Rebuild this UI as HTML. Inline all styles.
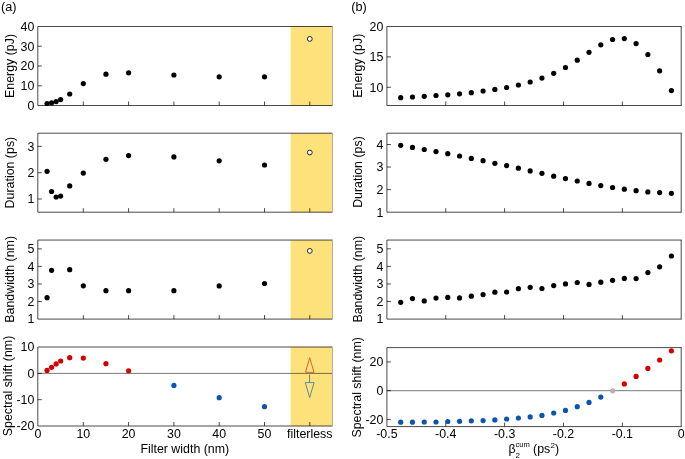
<!DOCTYPE html>
<html><head><meta charset="utf-8"><style>
html,body{margin:0;padding:0;background:#fff;}
svg{display:block;will-change:transform;}
text{font-family:"Liberation Sans", sans-serif;fill:#000;}
</style></head><body>
<svg width="685" height="459" viewBox="0 0 685 459">
<rect x="290.6" y="26.5" width="41.4" height="79.0" fill="#fde27c"/>
<rect x="290.6" y="133.2" width="41.4" height="79.0" fill="#fde27c"/>
<rect x="290.6" y="240.05" width="41.4" height="79.05000000000001" fill="#fde27c"/>
<rect x="290.6" y="347.0" width="41.4" height="79.0" fill="#fde27c"/>
<line x1="37.8" y1="373.4" x2="332.0" y2="373.4" stroke="#000" stroke-opacity="0.53" stroke-width="1"/>
<line x1="386.9" y1="390.7" x2="681.2" y2="390.7" stroke="#000" stroke-opacity="0.53" stroke-width="1"/>
<path d="M332.5 26.5 H37.8 V105.5 H332.5" fill="none" stroke="#000" stroke-opacity="0.71" stroke-width="1"/>
<line x1="332.5" y1="26.5" x2="332.5" y2="105.5" stroke="#b5b09a" stroke-width="1"/>
<path d="M681.7 26.5 H386.9 V105.5 H681.7" fill="none" stroke="#000" stroke-opacity="0.71" stroke-width="1"/>
<line x1="681.2" y1="26.5" x2="681.2" y2="105.5" stroke="#000" stroke-opacity="0.71" stroke-width="1"/>
<path d="M332.5 133.2 H37.8 V212.2 H332.5" fill="none" stroke="#000" stroke-opacity="0.71" stroke-width="1"/>
<line x1="332.5" y1="133.2" x2="332.5" y2="212.2" stroke="#b5b09a" stroke-width="1"/>
<path d="M681.7 133.2 H386.9 V212.2 H681.7" fill="none" stroke="#000" stroke-opacity="0.71" stroke-width="1"/>
<line x1="681.2" y1="133.2" x2="681.2" y2="212.2" stroke="#000" stroke-opacity="0.71" stroke-width="1"/>
<path d="M332.5 240.05 H37.8 V319.1 H332.5" fill="none" stroke="#000" stroke-opacity="0.71" stroke-width="1"/>
<line x1="332.5" y1="240.05" x2="332.5" y2="319.1" stroke="#b5b09a" stroke-width="1"/>
<path d="M681.7 240.05 H386.9 V319.1 H681.7" fill="none" stroke="#000" stroke-opacity="0.71" stroke-width="1"/>
<line x1="681.2" y1="240.05" x2="681.2" y2="319.1" stroke="#000" stroke-opacity="0.71" stroke-width="1"/>
<path d="M332.5 347.0 H37.8 V426.0 H332.5" fill="none" stroke="#000" stroke-opacity="0.71" stroke-width="1"/>
<line x1="332.5" y1="347.0" x2="332.5" y2="426.0" stroke="#b5b09a" stroke-width="1"/>
<path d="M681.7 347.6 H386.9 V426.6 H681.7" fill="none" stroke="#000" stroke-opacity="0.71" stroke-width="1"/>
<line x1="681.2" y1="347.6" x2="681.2" y2="426.6" stroke="#000" stroke-opacity="0.71" stroke-width="1"/>
<line x1="83.30" y1="105.5" x2="83.30" y2="101.5" stroke="#000" stroke-opacity="0.71" stroke-width="1"/>
<line x1="128.60" y1="105.5" x2="128.60" y2="101.5" stroke="#000" stroke-opacity="0.71" stroke-width="1"/>
<line x1="173.90" y1="105.5" x2="173.90" y2="101.5" stroke="#000" stroke-opacity="0.71" stroke-width="1"/>
<line x1="219.20" y1="105.5" x2="219.20" y2="101.5" stroke="#000" stroke-opacity="0.71" stroke-width="1"/>
<line x1="264.50" y1="105.5" x2="264.50" y2="101.5" stroke="#000" stroke-opacity="0.71" stroke-width="1"/>
<line x1="309.80" y1="105.5" x2="309.80" y2="101.5" stroke="#000" stroke-opacity="0.71" stroke-width="1"/>
<line x1="445.76" y1="105.5" x2="445.76" y2="101.5" stroke="#000" stroke-opacity="0.71" stroke-width="1"/>
<line x1="504.62" y1="105.5" x2="504.62" y2="101.5" stroke="#000" stroke-opacity="0.71" stroke-width="1"/>
<line x1="563.48" y1="105.5" x2="563.48" y2="101.5" stroke="#000" stroke-opacity="0.71" stroke-width="1"/>
<line x1="622.34" y1="105.5" x2="622.34" y2="101.5" stroke="#000" stroke-opacity="0.71" stroke-width="1"/>
<line x1="83.30" y1="212.2" x2="83.30" y2="208.2" stroke="#000" stroke-opacity="0.71" stroke-width="1"/>
<line x1="128.60" y1="212.2" x2="128.60" y2="208.2" stroke="#000" stroke-opacity="0.71" stroke-width="1"/>
<line x1="173.90" y1="212.2" x2="173.90" y2="208.2" stroke="#000" stroke-opacity="0.71" stroke-width="1"/>
<line x1="219.20" y1="212.2" x2="219.20" y2="208.2" stroke="#000" stroke-opacity="0.71" stroke-width="1"/>
<line x1="264.50" y1="212.2" x2="264.50" y2="208.2" stroke="#000" stroke-opacity="0.71" stroke-width="1"/>
<line x1="309.80" y1="212.2" x2="309.80" y2="208.2" stroke="#000" stroke-opacity="0.71" stroke-width="1"/>
<line x1="445.76" y1="212.2" x2="445.76" y2="208.2" stroke="#000" stroke-opacity="0.71" stroke-width="1"/>
<line x1="504.62" y1="212.2" x2="504.62" y2="208.2" stroke="#000" stroke-opacity="0.71" stroke-width="1"/>
<line x1="563.48" y1="212.2" x2="563.48" y2="208.2" stroke="#000" stroke-opacity="0.71" stroke-width="1"/>
<line x1="622.34" y1="212.2" x2="622.34" y2="208.2" stroke="#000" stroke-opacity="0.71" stroke-width="1"/>
<line x1="83.30" y1="319.1" x2="83.30" y2="315.1" stroke="#000" stroke-opacity="0.71" stroke-width="1"/>
<line x1="128.60" y1="319.1" x2="128.60" y2="315.1" stroke="#000" stroke-opacity="0.71" stroke-width="1"/>
<line x1="173.90" y1="319.1" x2="173.90" y2="315.1" stroke="#000" stroke-opacity="0.71" stroke-width="1"/>
<line x1="219.20" y1="319.1" x2="219.20" y2="315.1" stroke="#000" stroke-opacity="0.71" stroke-width="1"/>
<line x1="264.50" y1="319.1" x2="264.50" y2="315.1" stroke="#000" stroke-opacity="0.71" stroke-width="1"/>
<line x1="309.80" y1="319.1" x2="309.80" y2="315.1" stroke="#000" stroke-opacity="0.71" stroke-width="1"/>
<line x1="445.76" y1="319.1" x2="445.76" y2="315.1" stroke="#000" stroke-opacity="0.71" stroke-width="1"/>
<line x1="504.62" y1="319.1" x2="504.62" y2="315.1" stroke="#000" stroke-opacity="0.71" stroke-width="1"/>
<line x1="563.48" y1="319.1" x2="563.48" y2="315.1" stroke="#000" stroke-opacity="0.71" stroke-width="1"/>
<line x1="622.34" y1="319.1" x2="622.34" y2="315.1" stroke="#000" stroke-opacity="0.71" stroke-width="1"/>
<line x1="83.30" y1="426.0" x2="83.30" y2="422.0" stroke="#000" stroke-opacity="0.71" stroke-width="1"/>
<line x1="128.60" y1="426.0" x2="128.60" y2="422.0" stroke="#000" stroke-opacity="0.71" stroke-width="1"/>
<line x1="173.90" y1="426.0" x2="173.90" y2="422.0" stroke="#000" stroke-opacity="0.71" stroke-width="1"/>
<line x1="219.20" y1="426.0" x2="219.20" y2="422.0" stroke="#000" stroke-opacity="0.71" stroke-width="1"/>
<line x1="264.50" y1="426.0" x2="264.50" y2="422.0" stroke="#000" stroke-opacity="0.71" stroke-width="1"/>
<line x1="309.80" y1="426.0" x2="309.80" y2="422.0" stroke="#000" stroke-opacity="0.71" stroke-width="1"/>
<line x1="445.76" y1="426.6" x2="445.76" y2="422.6" stroke="#000" stroke-opacity="0.71" stroke-width="1"/>
<line x1="504.62" y1="426.6" x2="504.62" y2="422.6" stroke="#000" stroke-opacity="0.71" stroke-width="1"/>
<line x1="563.48" y1="426.6" x2="563.48" y2="422.6" stroke="#000" stroke-opacity="0.71" stroke-width="1"/>
<line x1="622.34" y1="426.6" x2="622.34" y2="422.6" stroke="#000" stroke-opacity="0.71" stroke-width="1"/>
<line x1="37.8" y1="85.75" x2="41.8" y2="85.75" stroke="#000" stroke-opacity="0.71" stroke-width="1"/>
<line x1="37.8" y1="66.00" x2="41.8" y2="66.00" stroke="#000" stroke-opacity="0.71" stroke-width="1"/>
<line x1="37.8" y1="46.25" x2="41.8" y2="46.25" stroke="#000" stroke-opacity="0.71" stroke-width="1"/>
<line x1="37.8" y1="199.03" x2="41.8" y2="199.03" stroke="#000" stroke-opacity="0.71" stroke-width="1"/>
<line x1="37.8" y1="172.70" x2="41.8" y2="172.70" stroke="#000" stroke-opacity="0.71" stroke-width="1"/>
<line x1="37.8" y1="146.37" x2="41.8" y2="146.37" stroke="#000" stroke-opacity="0.71" stroke-width="1"/>
<line x1="37.8" y1="301.53" x2="41.8" y2="301.53" stroke="#000" stroke-opacity="0.71" stroke-width="1"/>
<line x1="37.8" y1="283.97" x2="41.8" y2="283.97" stroke="#000" stroke-opacity="0.71" stroke-width="1"/>
<line x1="37.8" y1="266.40" x2="41.8" y2="266.40" stroke="#000" stroke-opacity="0.71" stroke-width="1"/>
<line x1="37.8" y1="248.83" x2="41.8" y2="248.83" stroke="#000" stroke-opacity="0.71" stroke-width="1"/>
<line x1="37.8" y1="399.67" x2="41.8" y2="399.67" stroke="#000" stroke-opacity="0.71" stroke-width="1"/>
<line x1="37.8" y1="373.33" x2="41.8" y2="373.33" stroke="#000" stroke-opacity="0.71" stroke-width="1"/>
<line x1="386.9" y1="87.27" x2="390.9" y2="87.27" stroke="#000" stroke-opacity="0.71" stroke-width="1"/>
<line x1="386.9" y1="56.88" x2="390.9" y2="56.88" stroke="#000" stroke-opacity="0.71" stroke-width="1"/>
<line x1="386.9" y1="189.63" x2="390.9" y2="189.63" stroke="#000" stroke-opacity="0.71" stroke-width="1"/>
<line x1="386.9" y1="167.06" x2="390.9" y2="167.06" stroke="#000" stroke-opacity="0.71" stroke-width="1"/>
<line x1="386.9" y1="144.49" x2="390.9" y2="144.49" stroke="#000" stroke-opacity="0.71" stroke-width="1"/>
<line x1="386.9" y1="301.53" x2="390.9" y2="301.53" stroke="#000" stroke-opacity="0.71" stroke-width="1"/>
<line x1="386.9" y1="283.97" x2="390.9" y2="283.97" stroke="#000" stroke-opacity="0.71" stroke-width="1"/>
<line x1="386.9" y1="266.40" x2="390.9" y2="266.40" stroke="#000" stroke-opacity="0.71" stroke-width="1"/>
<line x1="386.9" y1="248.83" x2="390.9" y2="248.83" stroke="#000" stroke-opacity="0.71" stroke-width="1"/>
<line x1="386.9" y1="419.42" x2="390.9" y2="419.42" stroke="#000" stroke-opacity="0.71" stroke-width="1"/>
<line x1="386.9" y1="390.69" x2="390.9" y2="390.69" stroke="#000" stroke-opacity="0.71" stroke-width="1"/>
<line x1="386.9" y1="361.96" x2="390.9" y2="361.96" stroke="#000" stroke-opacity="0.71" stroke-width="1"/>
<circle cx="47.06" cy="103.50" r="2.6" fill="#000"/>
<circle cx="51.59" cy="102.80" r="2.6" fill="#000"/>
<circle cx="56.12" cy="101.60" r="2.6" fill="#000"/>
<circle cx="60.65" cy="99.60" r="2.6" fill="#000"/>
<circle cx="69.71" cy="94.00" r="2.6" fill="#000"/>
<circle cx="83.30" cy="83.60" r="2.6" fill="#000"/>
<circle cx="105.95" cy="74.20" r="2.6" fill="#000"/>
<circle cx="128.60" cy="72.80" r="2.6" fill="#000"/>
<circle cx="173.90" cy="75.00" r="2.6" fill="#000"/>
<circle cx="219.20" cy="76.80" r="2.6" fill="#000"/>
<circle cx="264.50" cy="76.80" r="2.6" fill="#000"/>
<circle cx="309.80" cy="38.90" r="2.4" fill="#fff" stroke="#222" stroke-width="1"/>
<circle cx="47.06" cy="171.30" r="2.6" fill="#000"/>
<circle cx="51.59" cy="191.50" r="2.6" fill="#000"/>
<circle cx="56.12" cy="197.00" r="2.6" fill="#000"/>
<circle cx="60.65" cy="196.10" r="2.6" fill="#000"/>
<circle cx="69.71" cy="185.90" r="2.6" fill="#000"/>
<circle cx="83.30" cy="173.10" r="2.6" fill="#000"/>
<circle cx="105.95" cy="159.30" r="2.6" fill="#000"/>
<circle cx="128.60" cy="155.60" r="2.6" fill="#000"/>
<circle cx="173.90" cy="156.90" r="2.6" fill="#000"/>
<circle cx="219.20" cy="160.80" r="2.6" fill="#000"/>
<circle cx="264.50" cy="165.00" r="2.6" fill="#000"/>
<circle cx="309.80" cy="152.50" r="2.4" fill="#fff" stroke="#222" stroke-width="1"/>
<circle cx="47.06" cy="297.70" r="2.6" fill="#000"/>
<circle cx="51.59" cy="270.30" r="2.6" fill="#000"/>
<circle cx="69.71" cy="269.70" r="2.6" fill="#000"/>
<circle cx="83.30" cy="285.80" r="2.6" fill="#000"/>
<circle cx="105.95" cy="290.70" r="2.6" fill="#000"/>
<circle cx="128.60" cy="290.70" r="2.6" fill="#000"/>
<circle cx="173.90" cy="290.70" r="2.6" fill="#000"/>
<circle cx="219.20" cy="285.90" r="2.6" fill="#000"/>
<circle cx="264.50" cy="283.50" r="2.6" fill="#000"/>
<circle cx="309.80" cy="250.90" r="2.4" fill="#fff" stroke="#222" stroke-width="1"/>
<circle cx="47.06" cy="370.40" r="2.6" fill="#d40000"/>
<circle cx="51.59" cy="367.30" r="2.6" fill="#d40000"/>
<circle cx="56.12" cy="363.90" r="2.6" fill="#d40000"/>
<circle cx="60.65" cy="361.00" r="2.6" fill="#d40000"/>
<circle cx="69.71" cy="357.70" r="2.6" fill="#d40000"/>
<circle cx="83.30" cy="358.10" r="2.6" fill="#d40000"/>
<circle cx="105.95" cy="363.70" r="2.6" fill="#d40000"/>
<circle cx="128.60" cy="370.80" r="2.6" fill="#d40000"/>
<circle cx="173.90" cy="385.40" r="2.6" fill="#0a55b0"/>
<circle cx="219.20" cy="397.70" r="2.6" fill="#0a55b0"/>
<circle cx="264.50" cy="406.70" r="2.6" fill="#0a55b0"/>
<path d="M309.7 357.6 L314.0 372.3 L305.5 372.3 Z" fill="none" stroke="#e0603a" stroke-width="1" stroke-linejoin="miter"/>
<line x1="309.6" y1="374.6" x2="309.6" y2="382.6" stroke="#4f8499" stroke-width="1"/>
<path d="M305.3 382.6 L314.1 382.6 L309.65 397.6 Z" fill="none" stroke="#5a8a9c" stroke-width="1"/>
<circle cx="400.70" cy="97.70" r="2.6" fill="#000"/>
<circle cx="400.70" cy="145.30" r="2.6" fill="#000"/>
<circle cx="400.70" cy="302.30" r="2.6" fill="#000"/>
<circle cx="400.70" cy="422.20" r="2.6" fill="#0a55b0"/>
<circle cx="412.47" cy="97.00" r="2.6" fill="#000"/>
<circle cx="412.47" cy="147.40" r="2.6" fill="#000"/>
<circle cx="412.47" cy="298.60" r="2.6" fill="#000"/>
<circle cx="412.47" cy="422.20" r="2.6" fill="#0a55b0"/>
<circle cx="424.24" cy="96.30" r="2.6" fill="#000"/>
<circle cx="424.24" cy="149.50" r="2.6" fill="#000"/>
<circle cx="424.24" cy="300.90" r="2.6" fill="#000"/>
<circle cx="424.24" cy="422.00" r="2.6" fill="#0a55b0"/>
<circle cx="436.01" cy="95.50" r="2.6" fill="#000"/>
<circle cx="436.01" cy="151.60" r="2.6" fill="#000"/>
<circle cx="436.01" cy="298.10" r="2.6" fill="#000"/>
<circle cx="436.01" cy="422.00" r="2.6" fill="#0a55b0"/>
<circle cx="447.78" cy="94.80" r="2.6" fill="#000"/>
<circle cx="447.78" cy="153.70" r="2.6" fill="#000"/>
<circle cx="447.78" cy="297.40" r="2.6" fill="#000"/>
<circle cx="447.78" cy="421.50" r="2.6" fill="#0a55b0"/>
<circle cx="459.55" cy="93.80" r="2.6" fill="#000"/>
<circle cx="459.55" cy="156.00" r="2.6" fill="#000"/>
<circle cx="459.55" cy="297.90" r="2.6" fill="#000"/>
<circle cx="459.55" cy="421.30" r="2.6" fill="#0a55b0"/>
<circle cx="471.32" cy="92.70" r="2.6" fill="#000"/>
<circle cx="471.32" cy="158.40" r="2.6" fill="#000"/>
<circle cx="471.32" cy="296.20" r="2.6" fill="#000"/>
<circle cx="471.32" cy="420.80" r="2.6" fill="#0a55b0"/>
<circle cx="483.09" cy="91.00" r="2.6" fill="#000"/>
<circle cx="483.09" cy="160.70" r="2.6" fill="#000"/>
<circle cx="483.09" cy="294.60" r="2.6" fill="#000"/>
<circle cx="483.09" cy="420.60" r="2.6" fill="#0a55b0"/>
<circle cx="494.86" cy="89.40" r="2.6" fill="#000"/>
<circle cx="494.86" cy="163.30" r="2.6" fill="#000"/>
<circle cx="494.86" cy="292.20" r="2.6" fill="#000"/>
<circle cx="494.86" cy="419.90" r="2.6" fill="#0a55b0"/>
<circle cx="506.63" cy="87.50" r="2.6" fill="#000"/>
<circle cx="506.63" cy="165.60" r="2.6" fill="#000"/>
<circle cx="506.63" cy="292.00" r="2.6" fill="#000"/>
<circle cx="506.63" cy="419.00" r="2.6" fill="#0a55b0"/>
<circle cx="518.40" cy="85.00" r="2.6" fill="#000"/>
<circle cx="518.40" cy="168.20" r="2.6" fill="#000"/>
<circle cx="518.40" cy="288.70" r="2.6" fill="#000"/>
<circle cx="518.40" cy="418.00" r="2.6" fill="#0a55b0"/>
<circle cx="530.17" cy="82.00" r="2.6" fill="#000"/>
<circle cx="530.17" cy="170.90" r="2.6" fill="#000"/>
<circle cx="530.17" cy="287.30" r="2.6" fill="#000"/>
<circle cx="530.17" cy="416.90" r="2.6" fill="#0a55b0"/>
<circle cx="541.94" cy="78.10" r="2.6" fill="#000"/>
<circle cx="541.94" cy="173.30" r="2.6" fill="#000"/>
<circle cx="541.94" cy="288.50" r="2.6" fill="#000"/>
<circle cx="541.94" cy="415.40" r="2.6" fill="#0a55b0"/>
<circle cx="553.71" cy="73.30" r="2.6" fill="#000"/>
<circle cx="553.71" cy="176.20" r="2.6" fill="#000"/>
<circle cx="553.71" cy="285.60" r="2.6" fill="#000"/>
<circle cx="553.71" cy="413.00" r="2.6" fill="#0a55b0"/>
<circle cx="565.48" cy="67.50" r="2.6" fill="#000"/>
<circle cx="565.48" cy="178.60" r="2.6" fill="#000"/>
<circle cx="565.48" cy="283.90" r="2.6" fill="#000"/>
<circle cx="565.48" cy="410.40" r="2.6" fill="#0a55b0"/>
<circle cx="577.25" cy="60.20" r="2.6" fill="#000"/>
<circle cx="577.25" cy="181.00" r="2.6" fill="#000"/>
<circle cx="577.25" cy="282.50" r="2.6" fill="#000"/>
<circle cx="577.25" cy="406.70" r="2.6" fill="#0a55b0"/>
<circle cx="589.02" cy="52.30" r="2.6" fill="#000"/>
<circle cx="589.02" cy="183.40" r="2.6" fill="#000"/>
<circle cx="589.02" cy="284.40" r="2.6" fill="#000"/>
<circle cx="589.02" cy="402.40" r="2.6" fill="#0a55b0"/>
<circle cx="600.79" cy="44.80" r="2.6" fill="#000"/>
<circle cx="600.79" cy="185.60" r="2.6" fill="#000"/>
<circle cx="600.79" cy="282.20" r="2.6" fill="#000"/>
<circle cx="600.79" cy="397.10" r="2.6" fill="#0a55b0"/>
<circle cx="612.56" cy="39.50" r="2.6" fill="#000"/>
<circle cx="612.56" cy="187.50" r="2.6" fill="#000"/>
<circle cx="612.56" cy="280.30" r="2.6" fill="#000"/>
<circle cx="612.56" cy="390.80" r="2.6" fill="#b4b4b4"/>
<circle cx="624.33" cy="38.60" r="2.6" fill="#000"/>
<circle cx="624.33" cy="189.20" r="2.6" fill="#000"/>
<circle cx="624.33" cy="278.40" r="2.6" fill="#000"/>
<circle cx="624.33" cy="383.90" r="2.6" fill="#d40000"/>
<circle cx="636.10" cy="43.60" r="2.6" fill="#000"/>
<circle cx="636.10" cy="190.70" r="2.6" fill="#000"/>
<circle cx="636.10" cy="278.60" r="2.6" fill="#000"/>
<circle cx="636.10" cy="376.40" r="2.6" fill="#d40000"/>
<circle cx="647.87" cy="54.50" r="2.6" fill="#000"/>
<circle cx="647.87" cy="191.90" r="2.6" fill="#000"/>
<circle cx="647.87" cy="272.60" r="2.6" fill="#000"/>
<circle cx="647.87" cy="368.40" r="2.6" fill="#d40000"/>
<circle cx="659.64" cy="70.80" r="2.6" fill="#000"/>
<circle cx="659.64" cy="192.60" r="2.6" fill="#000"/>
<circle cx="659.64" cy="266.80" r="2.6" fill="#000"/>
<circle cx="659.64" cy="360.00" r="2.6" fill="#d40000"/>
<circle cx="671.41" cy="90.60" r="2.6" fill="#000"/>
<circle cx="671.41" cy="193.30" r="2.6" fill="#000"/>
<circle cx="671.41" cy="256.00" r="2.6" fill="#000"/>
<circle cx="671.41" cy="350.80" r="2.6" fill="#d40000"/>
<text x="34.3" y="109.80" text-anchor="end" font-size="12.4" >0</text>
<text x="34.3" y="90.05" text-anchor="end" font-size="12.4" >10</text>
<text x="34.3" y="70.30" text-anchor="end" font-size="12.4" >20</text>
<text x="34.3" y="50.55" text-anchor="end" font-size="12.4" >30</text>
<text x="34.3" y="30.80" text-anchor="end" font-size="12.4" >40</text>
<text x="34.3" y="203.33" text-anchor="end" font-size="12.4" >1</text>
<text x="34.3" y="177.00" text-anchor="end" font-size="12.4" >2</text>
<text x="34.3" y="150.67" text-anchor="end" font-size="12.4" >3</text>
<text x="34.3" y="323.40" text-anchor="end" font-size="12.4" >1</text>
<text x="34.3" y="305.83" text-anchor="end" font-size="12.4" >2</text>
<text x="34.3" y="288.27" text-anchor="end" font-size="12.4" >3</text>
<text x="34.3" y="270.70" text-anchor="end" font-size="12.4" >4</text>
<text x="34.3" y="253.13" text-anchor="end" font-size="12.4" >5</text>
<text x="34.3" y="430.30" text-anchor="end" font-size="12.4" >-20</text>
<text x="34.3" y="403.97" text-anchor="end" font-size="12.4" >-10</text>
<text x="34.3" y="377.63" text-anchor="end" font-size="12.4" >0</text>
<text x="34.3" y="351.30" text-anchor="end" font-size="12.4" >10</text>
<text x="383.4" y="91.57" text-anchor="end" font-size="12.4" >10</text>
<text x="383.4" y="61.18" text-anchor="end" font-size="12.4" >15</text>
<text x="383.4" y="30.80" text-anchor="end" font-size="12.4" >20</text>
<text x="383.4" y="216.50" text-anchor="end" font-size="12.4" >1</text>
<text x="383.4" y="193.93" text-anchor="end" font-size="12.4" >2</text>
<text x="383.4" y="171.36" text-anchor="end" font-size="12.4" >3</text>
<text x="383.4" y="148.79" text-anchor="end" font-size="12.4" >4</text>
<text x="383.4" y="323.40" text-anchor="end" font-size="12.4" >1</text>
<text x="383.4" y="305.83" text-anchor="end" font-size="12.4" >2</text>
<text x="383.4" y="288.27" text-anchor="end" font-size="12.4" >3</text>
<text x="383.4" y="270.70" text-anchor="end" font-size="12.4" >4</text>
<text x="383.4" y="253.13" text-anchor="end" font-size="12.4" >5</text>
<text x="383.4" y="423.72" text-anchor="end" font-size="12.4" >-20</text>
<text x="383.4" y="394.99" text-anchor="end" font-size="12.4" >0</text>
<text x="383.4" y="366.26" text-anchor="end" font-size="12.4" >20</text>
<text x="38.00" y="437.6" text-anchor="middle" font-size="12.4" >0</text>
<text x="83.30" y="437.6" text-anchor="middle" font-size="12.4" >10</text>
<text x="128.60" y="437.6" text-anchor="middle" font-size="12.4" >20</text>
<text x="173.90" y="437.6" text-anchor="middle" font-size="12.4" >30</text>
<text x="219.20" y="437.6" text-anchor="middle" font-size="12.4" >40</text>
<text x="264.50" y="437.6" text-anchor="middle" font-size="12.4" >50</text>
<text x="309.80" y="437.6" text-anchor="middle" font-size="12.4" >filterless</text>
<text x="386.90" y="437.6" text-anchor="middle" font-size="12.4" >-0.5</text>
<text x="445.76" y="437.6" text-anchor="middle" font-size="12.4" >-0.4</text>
<text x="504.62" y="437.6" text-anchor="middle" font-size="12.4" >-0.3</text>
<text x="563.48" y="437.6" text-anchor="middle" font-size="12.4" >-0.2</text>
<text x="622.34" y="437.6" text-anchor="middle" font-size="12.4" >-0.1</text>
<text x="681.20" y="437.6" text-anchor="middle" font-size="12.4" >0</text>
<text x="184.8" y="452.7" text-anchor="middle" font-size="12.4" >Filter width (nm)</text>
<text x="508.5" y="452.7" font-size="12.4">&#946;</text>
<text x="515.4" y="457.6" font-size="8">2</text>
<text x="515.5" y="447.2" font-size="7.6">cum</text>
<text x="533" y="453.2" font-size="12.4">(ps</text>
<text x="550.4" y="447.8" font-size="8">2</text>
<text x="555" y="453.2" font-size="12.4">)</text>
<text transform="translate(1.0,11.3) scale(0.94,1)" font-size="13.5">(a)</text>
<text transform="translate(351.3,11.3) scale(0.94,1)" font-size="13.5">(b)</text>
<text transform="translate(13.6,65.95) rotate(-90)" text-anchor="middle" font-size="12.4">Energy (pJ)</text>
<text transform="translate(13.6,172.6) rotate(-90)" text-anchor="middle" font-size="12.4">Duration (ps)</text>
<text transform="translate(13.6,279.35) rotate(-90)" text-anchor="middle" font-size="12.4">Bandwidth (nm)</text>
<text transform="translate(11.8,386.0) rotate(-90)" text-anchor="middle" font-size="12.4">Spectral shift (nm)</text>
<text transform="translate(362.3,65.75) rotate(-90)" text-anchor="middle" font-size="12.4">Energy (pJ)</text>
<text transform="translate(362.3,172.05) rotate(-90)" text-anchor="middle" font-size="12.4">Duration (ps)</text>
<text transform="translate(362.3,279.2) rotate(-90)" text-anchor="middle" font-size="12.4">Bandwidth (nm)</text>
<text transform="translate(360.5,387.3) rotate(-90)" text-anchor="middle" font-size="12.4">Spectral shift (nm)</text>
</svg>
</body></html>
